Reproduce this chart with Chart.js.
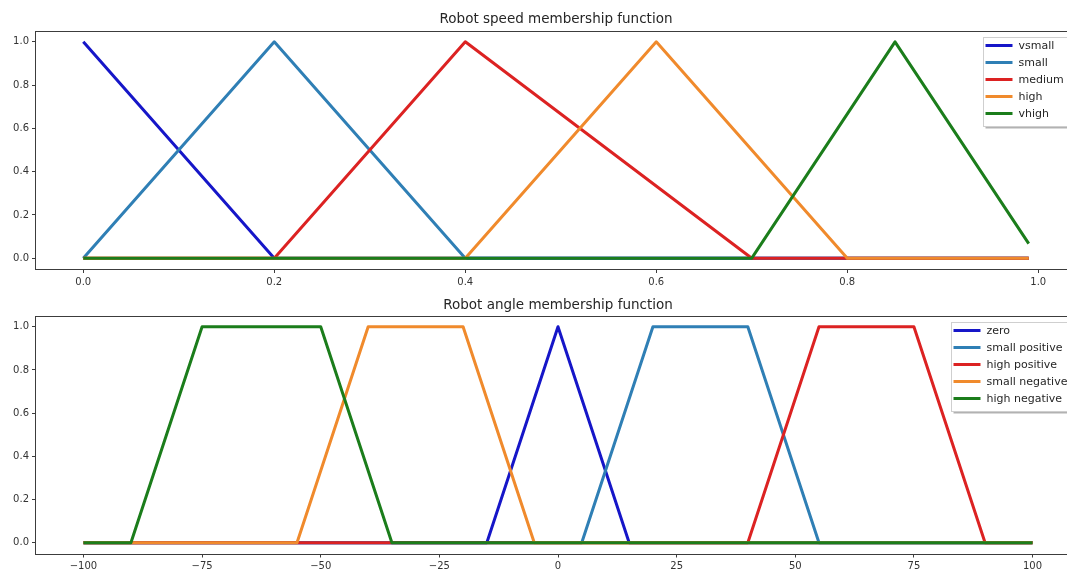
<!DOCTYPE html>
<html>
<head>
<meta charset="utf-8">
<script src="https://cdn.jsdelivr.net/npm/chart.js@4"></script>
<style>
  html, body { margin: 0; padding: 0; background: #fff; overflow: hidden; }
  #wrap { position: relative; width: 1067px; height: 571px; overflow: hidden; }
  canvas { position: absolute; left: 0; }
  #speed { top: 0; }
  #angle { top: 290px; }
</style>
</head>
<body>
<div id="wrap">
  <canvas id="speed" width="1076" height="290"></canvas>
  <canvas id="angle" width="1080" height="281"></canvas>
</div>
<script>
// speed membership functions (corner points)
const speedLabels = ['vsmall', 'small', 'medium', 'high', 'vhigh'];
const vsmall = [[0, 1], [0.2, 0], [0.99, 0]];
const small = [[0, 0], [0.2, 1], [0.4, 0], [0.99, 0]];
const medium = [[0, 0], [0.2, 0], [0.4, 1], [0.7, 0], [0.99, 0]];
const high = [[0, 0], [0.4, 0], [0.6, 1], [0.8, 0], [0.99, 0]];
const vhigh = [[0, 0], [0.7, 0], [0.85, 1], [0.99, 0.067]];
const speedTicks = [0, 0.2, 0.4, 0.6, 0.8, 1.0];

// angle membership functions
const angleLabels = ['zero', 'small positive', 'high positive', 'small negative', 'high negative'];
const zero = [[-100, 0], [-15, 0], [0, 1], [15, 0], [100, 0]];
const smallPos = [[-100, 0], [5, 0], [20, 1], [40, 1], [55, 0], [100, 0]];
const highPos = [[-100, 0], [40, 0], [55, 1], [75, 1], [90, 0], [100, 0]];
const smallNeg = [[-100, 0], [-55, 0], [-40, 1], [-20, 1], [-5, 0], [100, 0]];
const highNeg = [[-100, 0], [-90, 0], [-75, 1], [-50, 1], [-35, 0], [100, 0]];
const angleTicks = [-100, -75, -50, -25, 0, 25, 50, 75, 100];

const yTicks = [0, 0.2, 0.4, 0.6, 0.8, 1.0];
const colors = ['#1616c8', '#2f7fb5', '#dc2222', '#f08a2c', '#1b7d1b'];

const FONT = '"DejaVu Sans", sans-serif';

const frame = {
  id: 'frame',
  afterDraw(chart, args, opts) {
    const ctx = chart.ctx, a = chart.chartArea;
    ctx.save();
    ctx.strokeStyle = '#3c3c3c';
    ctx.lineWidth = 1;
    ctx.strokeRect(Math.round(a.left) - 0.5, Math.round(a.top) + 0.5,
      Math.round(a.right - a.left) + 1, Math.round(a.bottom - a.top));

    ctx.fillStyle = '#262626';
    ctx.font = '13.5px ' + FONT;
    ctx.textAlign = 'center';
    ctx.textBaseline = 'middle';
    ctx.fillText(opts.title, (a.left + a.right) / 2, opts.titleY);

    // legend box in the upper right corner
    const ds = chart.data.datasets;
    ctx.font = '11px ' + FONT;
    const tw = Math.max(...ds.map(d => ctx.measureText(d.label).width));
    const w = 2 + 27 + 6 + tw + 8;
    const h = 8 + (ds.length - 1) * 17 + 13;
    const x = Math.round(a.right - 5 - w) + 0.5, y = Math.round(a.top + 6) + 0.5;
    ctx.fillStyle = 'rgba(0,0,0,0.3)';
    ctx.fillRect(x + 2, y + 2, w, h);
    ctx.fillStyle = '#fff';
    ctx.fillRect(x, y, w, h);
    ctx.strokeStyle = '#cfcfcf';
    ctx.strokeRect(x, y, w, h);
    ctx.textAlign = 'left';
    ds.forEach((d, i) => {
      const yy = y + 8 + i * 17;
      ctx.strokeStyle = d.borderColor;
      ctx.lineWidth = 3;
      ctx.beginPath();
      ctx.moveTo(x + 2, yy);
      ctx.lineTo(x + 29, yy);
      ctx.stroke();
      ctx.fillStyle = '#262626';
      ctx.fillText(d.label, x + 35, yy + 0.5);
    });
    ctx.restore();
  }
};

function makeSets(labels, series) {
  return labels.map((lab, i) => ({
    label: lab,
    data: series[i].map(p => ({x: p[0], y: p[1]})),
    borderColor: colors[i],
    borderWidth: 3,
    borderJoinStyle: 'round',
    pointRadius: 0,
    tension: 0,
    fill: false,
    order: labels.length - i
  }));
}

function load(id, labels, series, xTicks, xmin, xmax, fmt, title, titleY, top, xh) {
  new Chart(document.getElementById(id), {
    type: 'line',
    data: { datasets: makeSets(labels, series) },
    plugins: [frame],
    options: {
      responsive: false,
      animation: false,
      layout: { padding: { top: top, left: 0, right: 0, bottom: 0 } },
      scales: {
        x: {
          type: 'linear',
          min: xmin,
          max: xmax,
          afterBuildTicks: s => { s.ticks = xTicks.map(v => ({value: v})); },
          afterFit: s => { s.height = xh; },
          grid: { drawOnChartArea: false, tickLength: 4, color: '#3c3c3c' },
          border: { display: false },
          ticks: {
            color: '#333',
            font: { family: FONT, size: 10 },
            padding: 3,
            maxRotation: 0,
            callback: fmt
          }
        },
        y: {
          min: -0.05,
          max: 1.05,
          afterBuildTicks: s => { s.ticks = yTicks.map(v => ({value: v})); },
          afterFit: s => { s.width = 36; },
          grid: { drawOnChartArea: false, tickLength: 4, color: '#3c3c3c' },
          border: { display: false },
          ticks: {
            color: '#333',
            font: { family: FONT, size: 10 },
            padding: 3,
            callback: v => v.toFixed(1)
          }
        }
      },
      plugins: {
        legend: { display: false },
        tooltip: { enabled: false },
        frame: { title: title, titleY: titleY }
      }
    }
  });
}

load('speed', speedLabels, [vsmall, small, medium, high, vhigh], speedTicks,
  -0.0495, 1.0395, v => v.toFixed(1), 'Robot speed membership function', 19, 31, 21);
load('angle', angleLabels, [zero, smallPos, highPos, smallNeg, highNeg], angleTicks,
  -110, 110, v => String(v).replace('-', '\u2212'), 'Robot angle membership function', 15, 26, 17.5);
</script>
</body>
</html>
